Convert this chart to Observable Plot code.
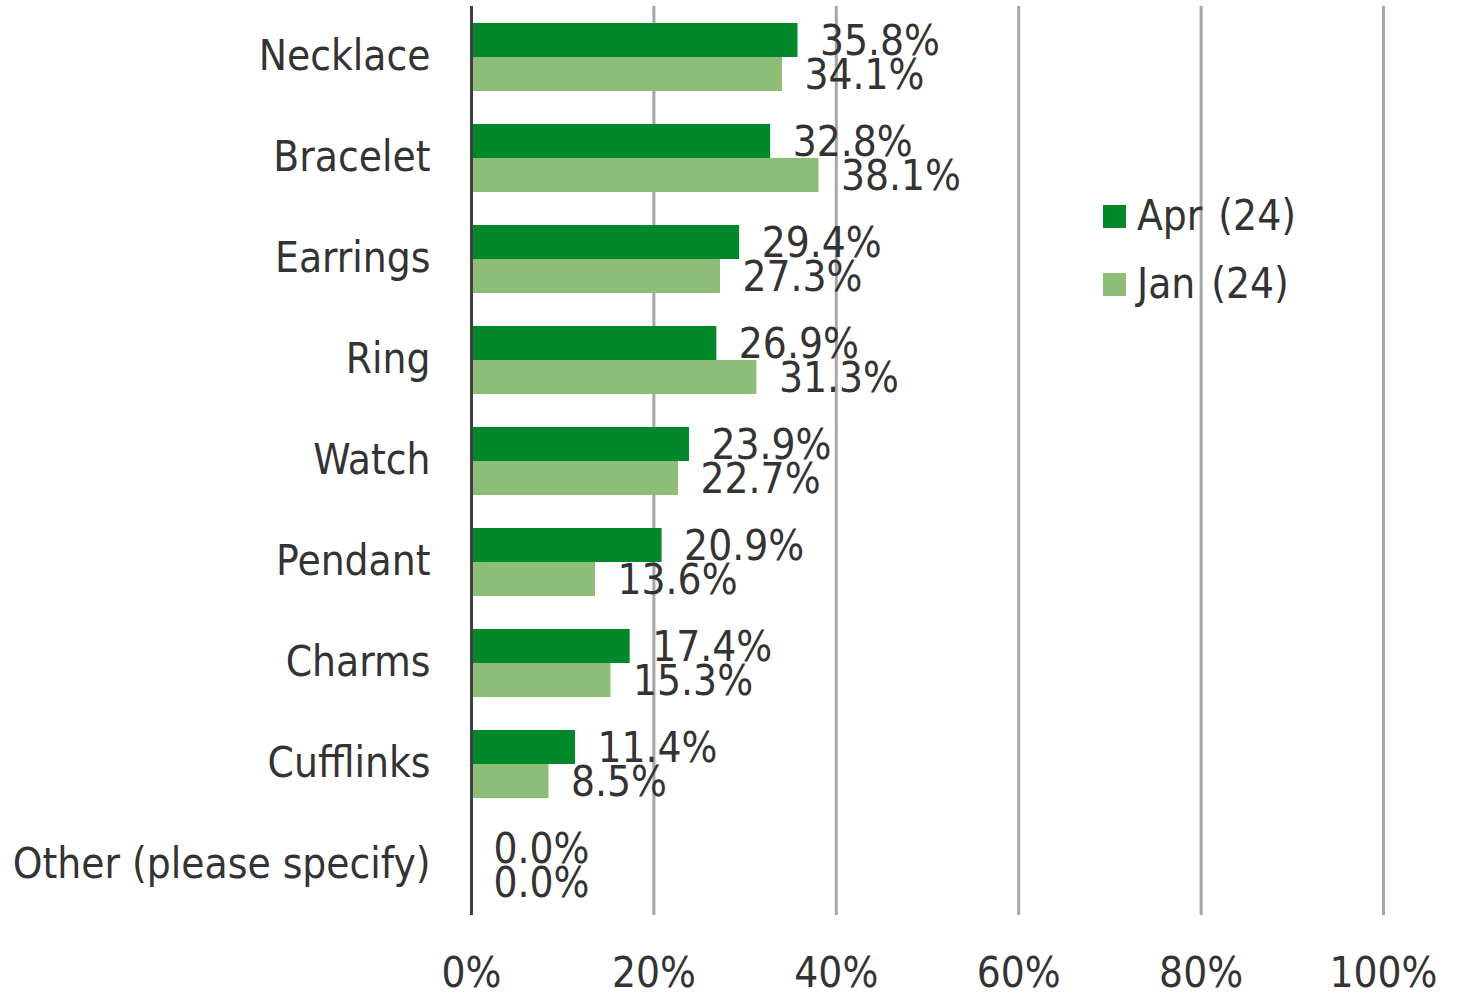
<!DOCTYPE html>
<html>
<head>
<meta charset="utf-8">
<script src="https://cdn.jsdelivr.net/npm/d3@7"></script>
<script src="https://cdn.jsdelivr.net/npm/@observablehq/plot@0.6"></script>
<style>
  html, body { margin: 0; padding: 0; background: #fff; }
  #wrap { position: relative; width: 1458px; height: 995px; font-family: "DejaVu Sans Condensed", "DejaVu Sans", sans-serif; font-stretch: condensed; color: #333; }
  #legend { position: absolute; left: 1103px; top: 182px; font-size: 42px; line-height: 68px; }
  .item { display: flex; align-items: center; height: 68px; white-space: nowrap; }
  .sw { width: 23px; height: 23px; margin-right: 11px; }
  .lbl { word-spacing: 4px; }
</style>
</head>
<body>
<div id="wrap"><div id="chart"></div><div id="legend"></div></div>
<script>
const categories = ["Necklace", "Bracelet", "Earrings", "Ring", "Watch", "Pendant", "Charms", "Cufflinks", "Other (please specify)"];
const series = ["Apr (24)", "Jan (24)"];
const apr = [35.8, 32.8, 29.4, 26.9, 23.9, 20.9, 17.4, 11.4, 0.0];
const jan = [34.1, 38.1, 27.3, 31.3, 22.7, 13.6, 15.3, 8.5, 0.0];
const xTicks = [0, 20, 40, 60, 80, 100];
const colors = ["#00882B", "#8CBE78"];

const data = categories.flatMap((c, i) => [
  {category: c, series: series[0], value: apr[i]},
  {category: c, series: series[1], value: jan[i]}
]);

const chart = Plot.plot({
  width: 1458,
  height: 995,
  marginLeft: 471,
  marginRight: 75,
  marginTop: 6,
  marginBottom: 80,
  style: {fontFamily: '"DejaVu Sans Condensed", "DejaVu Sans", sans-serif', fontSize: "42px", color: "#333", fontStretch: "condensed", background: "#fff"},
  fy: {domain: categories, padding: 0, axis: "left", tickSize: 0, tickPadding: 41, label: null},
  y: {domain: series, paddingInner: 0, paddingOuter: 0.464, axis: null},
  x: {domain: [0, 100], ticks: xTicks, tickSize: 0, tickPadding: 42, label: null, tickFormat: d => d + "%"},
  color: {domain: series, range: colors},
  marks: [
    Plot.ruleX(xTicks.slice(1), {stroke: "#a6a6a6", strokeWidth: 3}),
    Plot.barX(data, {x: "value", y: "series", fy: "category", fill: "series"}),
    Plot.ruleX([0], {stroke: "#404040", strokeWidth: 3}),
    Plot.text(data, {x: "value", y: "series", fy: "category", text: d => d.value.toFixed(1) + "%", dx: 22, dy: 1, textAnchor: "start", fontSize: 42, fill: "#333"})
  ]
});
document.getElementById("chart").appendChild(chart);

const legend = document.getElementById("legend");
series.forEach((s, i) => {
  const it = document.createElement("div");
  it.className = "item";
  const sw = document.createElement("span");
  sw.className = "sw";
  sw.style.background = colors[i];
  const t = document.createElement("span");
  t.className = "lbl";
  t.textContent = s;
  it.appendChild(sw);
  it.appendChild(t);
  legend.appendChild(it);
});
</script>
</body>
</html>
